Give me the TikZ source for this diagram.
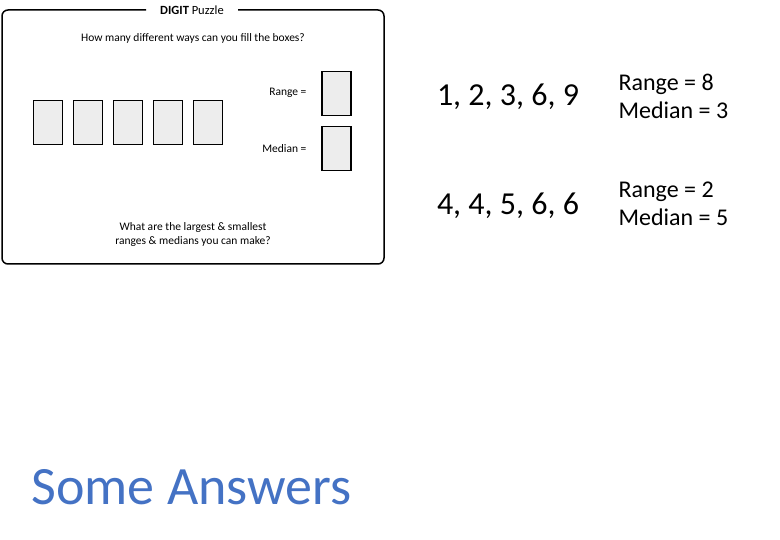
\documentclass[tikz,border=0pt]{standalone}
\usepackage{fontspec}
\setmainfont{Carlito}
\definecolor{ansblue}{HTML}{4472C4}
\begin{document}
\begin{tikzpicture}[x=1pt,y=-1pt,
 dbox/.style={draw,line width=1.5pt,fill=black!7,minimum width=29pt,minimum height=44pt,inner sep=0pt},
 small/.style={font=\fontsize{11.5}{14}\selectfont},
 big/.style={font=\fontsize{32}{34}\selectfont},
 mid/.style={font=\fontsize{24}{28}\selectfont,align=left,anchor=west}]
\useasboundingbox (0,0) rectangle (780,540);
\draw[line width=1.5pt,rounded corners=6pt] (146,10) -- (2,10) -- (2,264) -- (384,264) -- (384,10) -- (238,10);
\node (title) at (192,10) {\fontsize{12.5}{14}\selectfont\textbf{DIGIT} Puzzle};
\node[small] (q) at (193,38) {How many different ways can you fill the boxes?};
\foreach \i in {0,...,4} \node[dbox] (b\i) at (48+40*\i,122.5) {};
\node[small,anchor=east] (rl) at (310,93) {Range =};
\node[small,anchor=east] (ml) at (310,149) {Median =};
\node[dbox] (rb) at (336.5,93.5) {};
\node[dbox] (mb) at (336.5,148.5) {};
\node[small,align=center] (w) at (193,234) {What are the largest \& smallest\\ranges \& medians you can make?};
\node[big] (s1) at (508,97) {1, 2, 3, 6, 9};
\node[big] (s2) at (508,206) {4, 4, 5, 6, 6};
\node[mid] (a1) at (615,96) {Range = 8\\Median = 3};
\node[mid] (a2) at (615,204) {Range = 2\\Median = 5};
\node[anchor=west,text=ansblue,font=\fontsize{54}{56}\selectfont] (sa) at (28,487) {Some Answers};
\end{tikzpicture}
\end{document}
